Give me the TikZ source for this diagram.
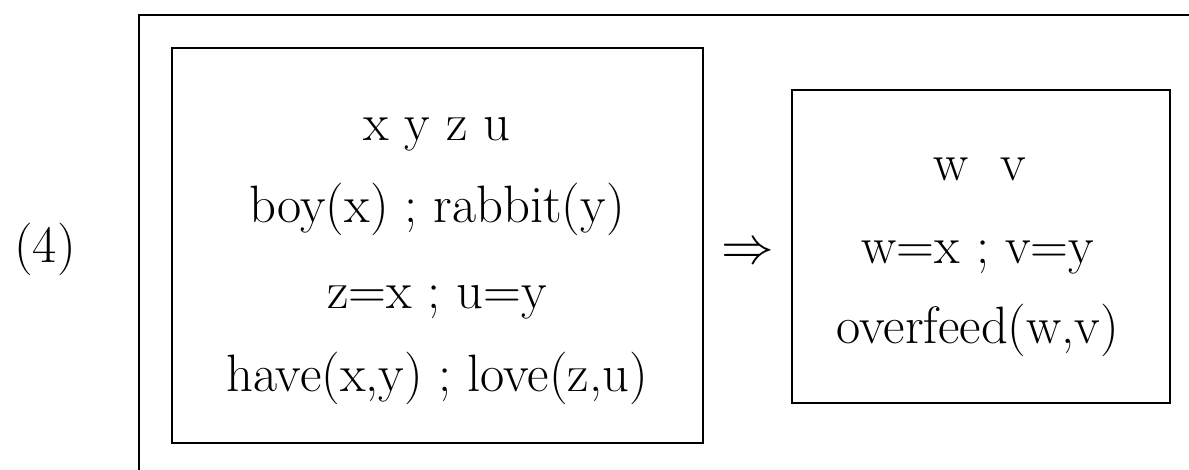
\documentclass[tikz,border=0pt]{standalone}
\usepackage{fix-cm}
\usepackage{tikz}
\usetikzlibrary{positioning}

\tikzset{
  drsbox/.style={draw,line width=2.6pt,inner sep=0pt},
  drsline/.style={anchor=base,inner sep=0pt,font=\fontsize{52.6}{63}\selectfont},
}

\begin{document}
\begin{tikzpicture}[x=1pt,y=-1pt]
\useasboundingbox (0,0) rectangle (1189,469);
\clip (0,0) rectangle (1189,469);
% outer box
\draw[line width=2.6pt] (1200,15) -- (139,15) -- (139,480);
\node[drsline] (num) at (45,262) {(4)};
% antecedent
\node[drsbox,minimum width=531pt,minimum height=395pt] (ante) at (437.5,245.5) {};
\node[drsline] (aref) at (437,140) {x y z u};
\node[drsline] (acondA) at (437,222) {boy(x) ; rabbit(y)};
\node[drsline] (acondB) at (437,308) {z=x ; u=y};
\node[drsline] (acondC) at (437,391) {have(x,y) ; love(z,u)};
\node[drsline] (imp) at (748,263) {$\Rightarrow$};
% consequent
\node[drsbox,minimum width=378pt,minimum height=313pt] (cons) at (981,246.5) {};
\node[drsline] (cref) at (980,180) {w\ \ v};
\node[drsline] (ccondA) at (978,263) {w=x ; v=y};
\node[drsline] (ccondB) at (978,343) {overfeed(w,v)};
\end{tikzpicture}
\end{document}
